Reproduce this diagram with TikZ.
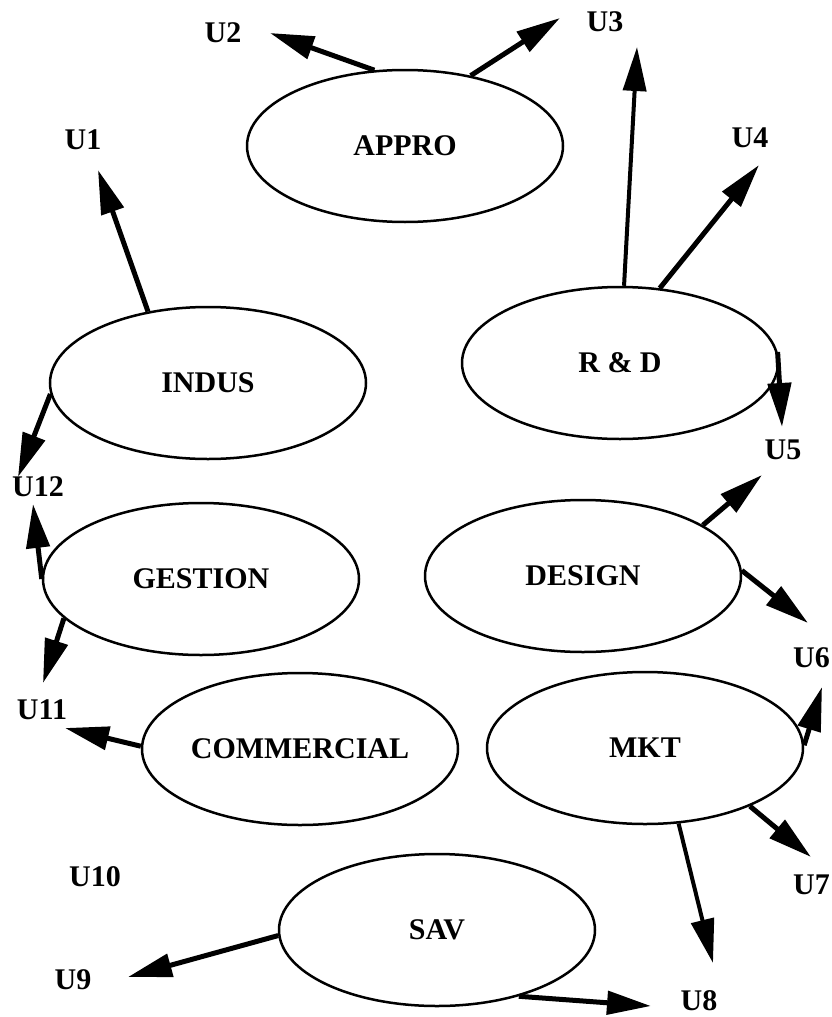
\documentclass[tikz,border=0pt]{standalone}
\usepackage{fontspec}
\setmainfont{Liberation Serif}
\usetikzlibrary{arrows.meta, shapes.geometric}

\begin{document}
\begin{tikzpicture}[x=1pt, y=-1pt]
\tikzset{
>={Triangle[length=44pt,width=23pt]},
  service/.style={
    ellipse,
    draw=black, line width=2.5pt,
    minimum width=316pt,
    minimum height=152pt,
    inner sep=0pt,
    font=\bfseries\fontsize{30}{36}\selectfont},
  unitlabel/.style={
    inner sep=0pt,
    font=\bfseries\fontsize{30}{36}\selectfont},
  flow/.style={draw, line width=5pt, ->},
  thinflow/.style={draw, line width=4pt, ->},
}
\useasboundingbox (0,0) rectangle (832,1017);

% services
\node[service] (appro) at (405,146) {APPRO};
\node[service] (indus) at (208,383) {INDUS};
\node[service] (rd) at (620,363) {R \& D};
\node[service] (gestion) at (201,579) {GESTION};
\node[service] (design) at (583,576) {DESIGN};
\node[service] (commercial) at (300,749) {COMMERCIAL};
\node[service] (mkt) at (645,748) {MKT};
\node[service] (sav) at (437,930) {SAV};

% units
\node[unitlabel] (u1) at (83,140) {U1};
\node[unitlabel] (u2) at (223,33) {U2};
\node[unitlabel] (u3) at (605,22) {U3};
\node[unitlabel] (u4) at (750,138) {U4};
\node[unitlabel] (u5) at (783,450) {U5};
\node[unitlabel, anchor=west] (u6) at (793,658) {U6};
\node[unitlabel, anchor=west] (u7) at (793,885) {U7};
\node[unitlabel] (u8) at (699,1001) {U8};
\node[unitlabel] (u9) at (73,980) {U9};
\node[unitlabel] (u10) at (95,877) {U10};
\node[unitlabel] (u11) at (42,710) {U11};
\node[unitlabel] (u12) at (38,487) {U12};

% arrow tips
\coordinate (t1) at (98,170);
\coordinate (t2) at (270,33);
\coordinate (t3a) at (560,18);
\coordinate (t3b) at (637,47);
\coordinate (t4) at (759,165);
\coordinate (t5a) at (782,427);
\coordinate (t5b) at (762,475);
\coordinate (t6a) at (808,623);
\coordinate (t6b) at (822,687);
\coordinate (t7) at (811,857);
\coordinate (t8a) at (713,963);
\coordinate (t8b) at (651,1006);
\coordinate (t9) at (128,977);
\coordinate (t11a) at (43,683);
\coordinate (t11b) at (65,728);
\coordinate (t12a) at (18,477);
\coordinate (t12b) at (33,504);

\draw[flow] (appro.112) -- (t2);
\draw[flow] (appro.47) -- (t3a);
\draw[flow] (indus.130) -- (t1);
\draw[flow] (indus.184) -- (t12a);
\draw[thinflow] (rd.87) -- (t3b);
\draw[flow] (rd.62) -- (t4);
\draw[flow] (rd.4) -- (t5a);
\draw[flow] (gestion.180) -- (t12b);
\draw[flow] (gestion.196) -- (t11a);
\draw[flow] (design.23) -- (t5b);
\draw[flow] (design.2) -- (t6a);
\draw[flow] (commercial.179) -- (t11b);
\draw[flow] (mkt.1) -- (t6b);
\draw[flow] (mkt.-29) -- (t7);
\draw[thinflow] (mkt.-66) -- (t8a);
\draw[flow] (sav.182) -- (t9);
\draw[flow] (sav.-39) -- (t8b);

\end{tikzpicture}
\end{document}
